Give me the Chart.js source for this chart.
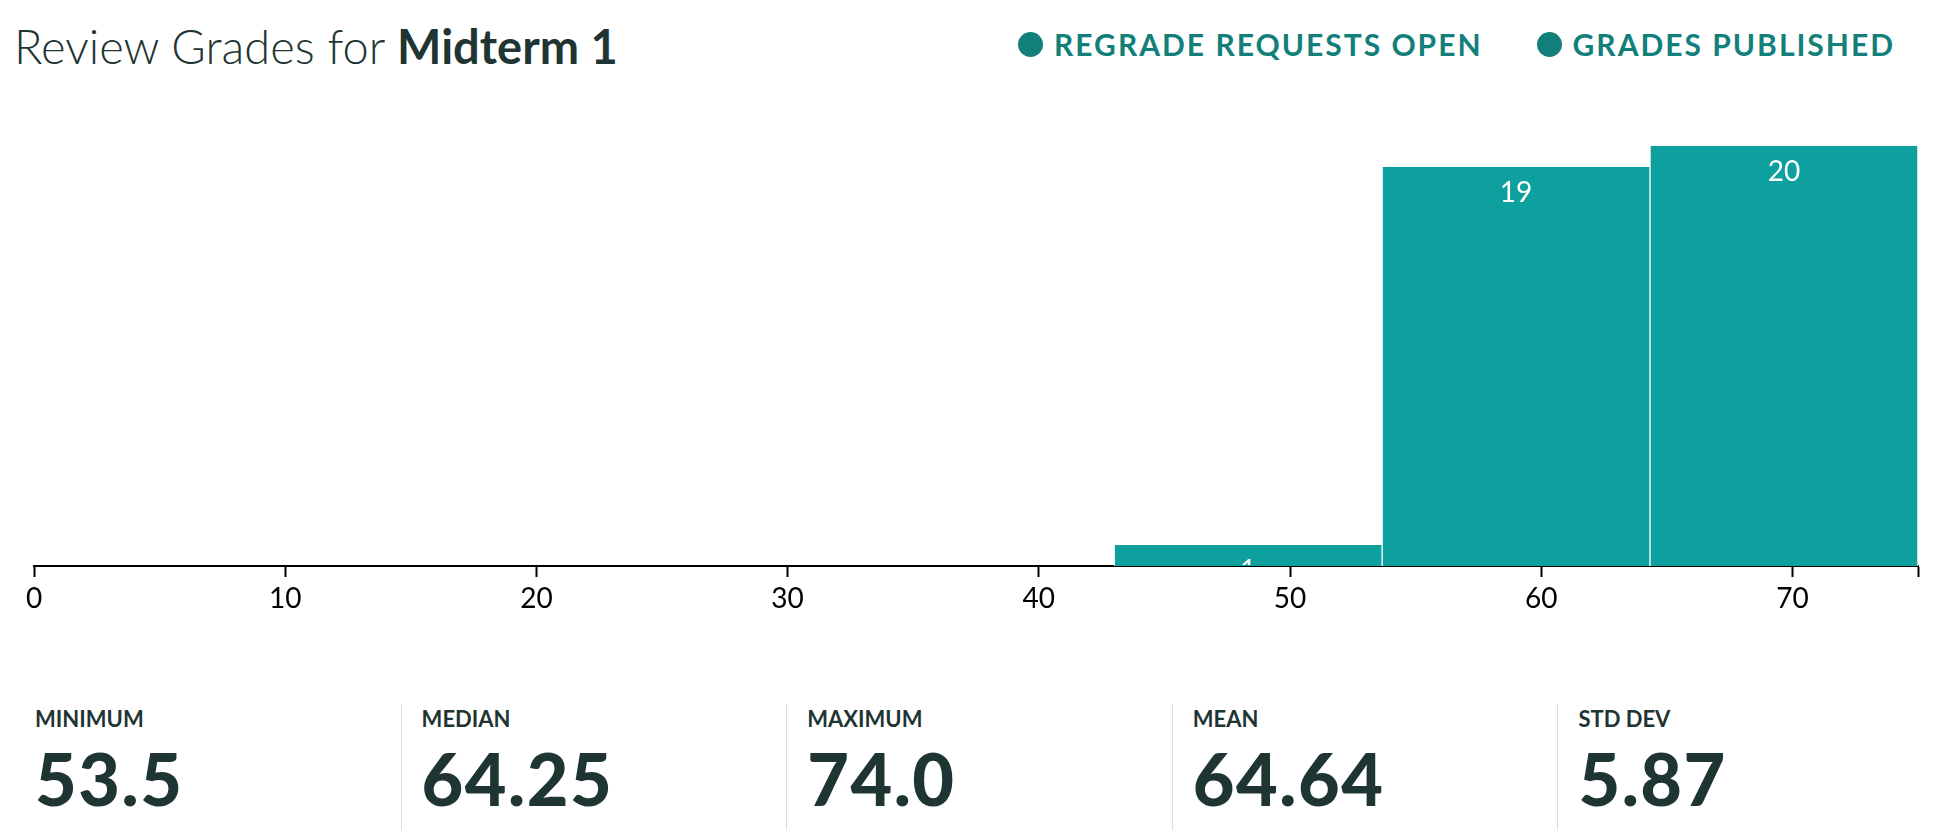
<!DOCTYPE html>
<html>
<head>
<meta charset="utf-8">
<script src="https://cdn.jsdelivr.net/npm/chart.js@4.4.1/dist/chart.umd.min.js"></script>
<style>
  body { margin: 0; background: #fff; font-family: Lato, sans-serif; color: #1f3533; width: 1936px; height: 830px; overflow: hidden; position: relative; }
  #title { position: absolute; left: 14px; top: 18px; font-size: 47px; font-weight: 300; white-space: nowrap; }
  #title b { font-weight: 700; }
  #legend { position: absolute; right: 41px; top: 26px; display: flex; align-items: center; color: #137f7a; font-weight: 700; font-size: 30px; letter-spacing: 2px; white-space: nowrap; }
  .item { display: flex; align-items: center; margin-left: 54px; }
  .dot { width: 25px; height: 25px; border-radius: 50%; background: #137f7a; margin-right: 11px; }
  #wrap { position: absolute; left: 0; top: 0; width: 1936px; height: 640px; }
  #stats { position: absolute; left: 15px; top: 704px; height: 126px; display: flex; }
  .stat { width: 385.6px; box-sizing: border-box; padding-left: 20px; border-left: 1px solid #dcdde3; height: 126px; }
  .stat:first-child { border-left: none; }
  .lab { font-size: 22px; font-weight: 700; margin-top: 2px; line-height: 26px; }
  .val { font-size: 72px; font-weight: 900; letter-spacing: 1.5px; line-height: 80px; margin-top: 6px; }
</style>
</head>
<body>
<div id="title">Review Grades for <b>Midterm 1</b></div>
<div id="legend"></div>
<div id="wrap"><canvas id="graphique"></canvas></div>
<div id="stats"></div>
<script>
// donnees de l'histogramme
const binStarts = [43, 53.67, 64.33];
const binEnds = [53.67, 64.33, 75];
const counts = [1, 19, 20];
const tickValues = [0, 10, 20, 30, 40, 50, 60, 70];

const legendLabels = ['REGRADE REQUESTS OPEN', 'GRADES PUBLISHED'];

const statLabels = ['MINIMUM', 'MEDIAN', 'MAXIMUM', 'MEAN', 'STD DEV'];
const statValues = ['53.5', '64.25', '74.0', '64.64', '5.87'];

const barColor = '#0ea09f';

// legende
const legend = document.getElementById('legend');
legendLabels.forEach(txt => {
  const item = document.createElement('div');
  item.className = 'item';
  item.innerHTML = '<span class="dot"></span><span>' + txt + '</span>';
  legend.appendChild(item);
});

// statistiques
const stats = document.getElementById('stats');
statLabels.forEach((lab, i) => {
  const d = document.createElement('div');
  d.className = 'stat';
  d.innerHTML = '<div class="lab">' + lab + '</div><div class="val">' + statValues[i] + '</div>';
  stats.appendChild(d);
});

// labels blancs dans les barres
const barLabels = {
  id: 'barLabels',
  afterDatasetsDraw(chart) {
    const ctx = chart.ctx;
    const area = chart.chartArea;
    ctx.save();
    ctx.beginPath();
    ctx.rect(area.left, area.top, area.right - area.left, area.bottom - area.top - 1);
    ctx.clip();
    ctx.fillStyle = '#fff';
    ctx.font = '28px Lato';
    ctx.textAlign = 'center';
    ctx.textBaseline = 'middle';
    chart.getDatasetMeta(0).data.forEach((bar, i) => {
      ctx.fillText(counts[i], bar.x, bar.y + 26);
    });
    ctx.restore();
  }
};

const data = counts.map((c, i) => ({ x: (binStarts[i] + binEnds[i]) / 2, y: c }));

new Chart(document.getElementById('graphique'), {
  type: 'bar',
  data: {
    datasets: [{
      data: data,
      xAxisID: 'xb',
      backgroundColor: barColor,
      borderColor: '#fff',
      borderWidth: { left: 1, right: 1, top: 0, bottom: 0 },
      borderSkipped: false,
      barPercentage: 1,
      categoryPercentage: 1
    }]
  },
  options: {
    responsive: true,
    maintainAspectRatio: false,
    animation: false,
    events: [],
    layout: { padding: { left: 34, right: 18, top: 146, bottom: 14 } },
    plugins: { legend: { display: false }, tooltip: { enabled: false } },
    scales: {
      // axe cache pour la largeur des barres (bins)
      xb: {
        type: 'linear',
        position: 'bottom',
        display: false,
        min: 0,
        max: 75,
        offset: false,
        ticks: { stepSize: 75 }
      },
      x: {
        type: 'linear',
        position: 'bottom',
        min: 0,
        max: 75,
        offset: false,
        z: 1,
        afterFit: scale => { scale.height = 60; },
        border: { display: true, color: '#000', width: 2 },
        grid: { display: true, drawOnChartArea: false, drawTicks: true, tickLength: 11, tickWidth: 2, tickColor: '#000', offset: false },
        ticks: {
          stepSize: 10,
          autoSkip: false,
          maxRotation: 0,
          padding: 5,
          color: '#000',
          font: { family: 'Lato', size: 28 },
          callback: v => tickValues.includes(v) ? String(v) : ''
        }
      },
      y: { display: false, min: 0, max: 20 }
    }
  },
  plugins: [barLabels]
});
</script>
</body>
</html>
